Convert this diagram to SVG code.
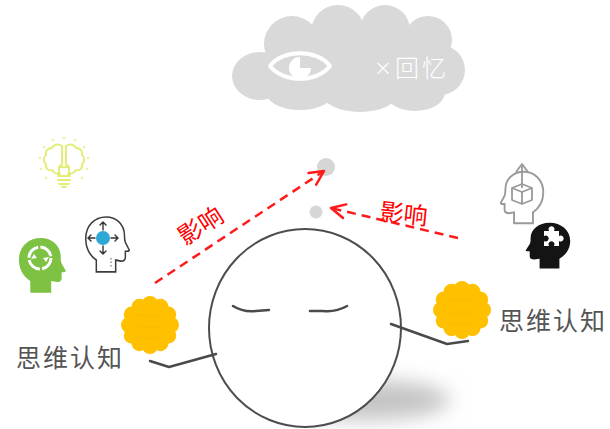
<svg xmlns="http://www.w3.org/2000/svg" width="610" height="429" viewBox="0 0 610 429">
  <style>
    .cjk { font-family: "Noto Sans CJK SC", "Noto Sans", sans-serif; }
    .label { font-size: 25px; fill: #555555; letter-spacing: 2px; font-weight: 400; }
    .red { font-size: 24px; fill: #ff0000; }
    .dash { fill: none; stroke: #ff1a1a; stroke-width: 2.5; stroke-dasharray: 9 6; }
    .arm { fill: none; stroke: #4a4a4a; stroke-width: 2.5; stroke-linecap: round; stroke-linejoin: round; }
  </style>
  <defs>
    <marker id="openArrow" markerUnits="userSpaceOnUse" markerWidth="18" markerHeight="18" viewBox="0 0 18 18" refX="16" refY="9" orient="auto">
      <path d="M2,2 L16,9 L2,16" fill="none" stroke="#ff1a1a" stroke-width="2.5" stroke-linecap="round" stroke-linejoin="round"/>
    </marker>
    <!-- head silhouette facing right, 52 x 58 -->
    <path id="head" d="M14 58 L14 46 C6 41 2 33 2 24 C2 11 12 2 25 2 C37 2 46 10 46 21 C46 24 46 26 47 28 L51 35 C52 36 51 37 49 37 L47 37 L47 43 C47 46 45 47 42 47 L36 46 L36 58 Z"/>
    <!-- scalloped orange ball -->
    <g id="ball">
      <circle r="24" fill="#ffc000"/>
      <g fill="#ffc000">
        <circle cx="0" cy="-21" r="8"/><circle cx="10.5" cy="-18.2" r="8"/><circle cx="18.2" cy="-10.5" r="8"/>
        <circle cx="21" cy="0" r="8"/><circle cx="18.2" cy="10.5" r="8"/><circle cx="10.5" cy="18.2" r="8"/>
        <circle cx="0" cy="21" r="8"/><circle cx="-10.5" cy="18.2" r="8"/><circle cx="-18.2" cy="10.5" r="8"/>
        <circle cx="-21" cy="0" r="8"/><circle cx="-18.2" cy="-10.5" r="8"/><circle cx="-10.5" cy="-18.2" r="8"/>
      </g>
      <g fill="none" stroke="#f5b800" stroke-width="0.8">
        <path d="M-14 -8 q5 -5 10 0 q5 -5 10 0 q5 -5 8 0"/>
        <path d="M-18 4 q5 -5 10 0 q5 -5 10 0 q5 -5 10 0"/>
        <path d="M-12 15 q5 -5 10 0 q5 -5 10 0"/>
      </g>
    </g>
    <filter id="soft" x="-50%" y="-80%" width="200%" height="260%">
      <feGaussianBlur stdDeviation="10"/>
    </filter>
  </defs>

  <rect width="610" height="429" fill="#ffffff"/>

  <!-- thought cloud with eye and "× 回忆" -->
  <g id="cloud">
    <g fill="#d9d9d9">
      <ellipse cx="260" cy="76" rx="28" ry="24"/>
      <circle cx="292" cy="44" r="28"/>
      <circle cx="338" cy="32" r="27"/>
      <circle cx="385" cy="30" r="25"/>
      <circle cx="428" cy="40" r="24"/>
      <circle cx="440" cy="70" r="25"/>
      <ellipse cx="415" cy="92" rx="30" ry="19"/>
      <ellipse cx="360" cy="93" rx="38" ry="19"/>
      <ellipse cx="300" cy="92" rx="34" ry="18"/>
      <rect x="272" y="38" width="165" height="62"/>
    </g>
    <path d="M270 66 C283 49 317 49 330 66 C317 83 283 83 270 66 Z" fill="none" stroke="#ffffff" stroke-width="4" stroke-linejoin="round"/>
    <path d="M300 68 L300 57 A11 11 0 1 0 311 68 Z" fill="#ffffff"/>
    <text x="374" y="75" class="cjk" font-size="18" fill="#ffffff">×</text>
    <text x="395" y="77" class="cjk" font-size="24" fill="#ffffff" letter-spacing="3" font-weight="300">回忆</text>
  </g>

  <!-- thought bubbles -->
  <g id="bubbles" fill="#d6d6d6">
    <circle cx="326" cy="167" r="9"/>
    <circle cx="316" cy="212" r="6.5"/>
    <circle cx="309" cy="250" r="3"/>
  </g>

  <!-- icons -->
  <g id="icon-bulb" transform="translate(64 162)" fill="none" stroke="#e4ec78" stroke-width="2" stroke-linecap="round" stroke-linejoin="round">
    <path d="M-2 -16 C-6 -19 -11 -17 -12 -14 C-16 -14 -19 -11 -18 -7 C-21 -5 -21 0 -18 2 C-19 6 -16 9 -12 8 C-10 11 -7 12 -4 12"/>
    <path d="M2 -16 C6 -19 11 -17 12 -14 C16 -14 19 -11 18 -7 C21 -5 21 0 18 2 C19 6 16 9 12 8 C10 11 7 12 4 12"/>
    <path d="M-2 -16 L-2 2 M2 -16 L2 2 M-2 2 L-5 5 L-5 13 M2 2 L5 5 L5 13 M-4 5 L4 5"/>
    <path d="M-6 14 L6 14 M-6 18 L6 18 M-5 22 L5 22 M-2 25 L2 25"/>
    <g fill="#eef29c" stroke="none">
      <circle cx="0" cy="-24" r="1.3"/><circle cx="11" cy="-22" r="1.3"/><circle cx="-11" cy="-22" r="1.3"/>
      <circle cx="20" cy="-15" r="1.3"/><circle cx="-20" cy="-15" r="1.3"/><circle cx="24" cy="-4" r="1.3"/>
      <circle cx="-24" cy="-4" r="1.3"/><circle cx="23" cy="7" r="1.3"/><circle cx="-23" cy="7" r="1.3"/>
      <circle cx="18" cy="16" r="1.3"/><circle cx="-18" cy="16" r="1.3"/>
    </g>
  </g>

  <g id="icon-head-arrows">
    <use href="#head" transform="translate(84 215) scale(0.88 0.98)" fill="#ffffff" stroke="#3c3c3c" stroke-width="1.7"/>
    <g stroke="#333" stroke-width="1.4" fill="none" stroke-linecap="round">
      <path d="M103 230 L103 222 M100 225 L103 222 L106 225"/>
      <path d="M103 246 L103 254 M100 251 L103 254 L106 251"/>
      <path d="M95 238 L88 238 M91 235 L88 238 L91 241"/>
      <path d="M111 238 L118 238 M115 235 L118 238 L115 241"/>
    </g>
    <circle cx="103" cy="238" r="7" fill="#2ea9d6"/>
    <path d="M111 258 L111 268" stroke="#777" stroke-width="1.2" stroke-dasharray="1.5 2"/>
  </g>

  <g id="icon-head-green">
    <use href="#head" transform="translate(17 236) scale(0.95 0.98)" fill="#7dc242"/>
    <circle cx="40" cy="258" r="11" fill="none" stroke="#ffffff" stroke-width="3" stroke-dasharray="15 2.3"/>
    <path d="M34 254 L37 258 L31 259 Z M46 262 L43 258 L49 257 Z" fill="#ffffff"/>
  </g>

  <g id="icon-head-box">
    <use href="#head" transform="translate(545 170) scale(-0.86 0.92)" fill="#ffffff" stroke="#9a9a9a" stroke-width="2.2"/>
    <g fill="none" stroke="#9a9a9a" stroke-width="1.8" stroke-linejoin="round">
      <path d="M512 188 L522 184 L532 188 L522 192 Z"/>
      <path d="M512 188 L512 200 L522 204 L532 200 L532 188 M522 192 L522 204"/>
      <path d="M522 188 L522 166 M516 172 L522 164 L528 172"/>
    </g>
  </g>

  <g id="icon-head-puzzle">
    <use href="#head" transform="translate(572 221) scale(-0.9 0.82)" fill="#141414"/>
    <path d="M544 231 h5 a3 3 0 1 1 5 0 h5 v5 a3 3 0 1 1 0 5 v5 h-5 a3 3 0 1 0 -5 0 h-5 v-5 a3 3 0 1 0 0 -5 Z" fill="#ffffff"/>
  </g>

  <!-- face -->
  <g id="face">
    <ellipse cx="368" cy="400" rx="82" ry="20" fill="#c4c4c4" filter="url(#soft)"/>
    <ellipse cx="305" cy="328" rx="96" ry="99" fill="#ffffff" stroke="#4d4d4d" stroke-width="2"/>
    <path d="M233 306 C241 311 248 312 256 311 L269 310" class="arm" stroke-width="2.2"/>
    <path d="M310 311 L323 311 C332 312 340 310 347 306" class="arm" stroke-width="2.2"/>
    <polyline class="arm" points="216,354 169,367 150,361"/>
    <polyline class="arm" points="391,324 447,344 468,341"/>
  </g>

  <!-- hands holding balls -->
  <g id="ball-left"><use href="#ball" transform="translate(150 325)"/></g>
  <g id="ball-right"><use href="#ball" transform="translate(462 310)"/></g>

  <g id="label-left"><text x="16" y="367" class="cjk label">思维认知</text></g>
  <g id="label-right"><text x="499" y="330" class="cjk label">思维认知</text></g>

  <!-- connectors -->
  <g id="connectors">
    <line x1="155" y1="283" x2="324" y2="171" class="dash" marker-end="url(#openArrow)"/>
    <line x1="458" y1="238" x2="331" y2="208" class="dash" marker-end="url(#openArrow)"/>
    <text class="cjk red" transform="translate(185 246) rotate(-33)">影响</text>
    <text class="cjk red" transform="translate(379 220) rotate(6)">影响</text>
  </g>
</svg>
